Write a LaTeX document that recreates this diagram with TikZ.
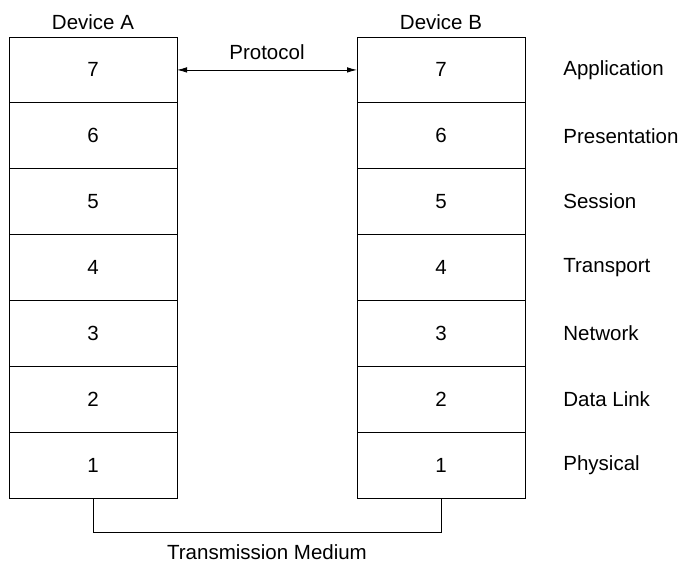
\documentclass[tikz,border=0pt]{standalone}
\usepackage{fontspec}
\setmainfont{Liberation Sans}
\usetikzlibrary{arrows.meta,positioning}

\tikzset{
  layer/.style={draw, line width=0.8pt, minimum width=168pt, minimum height=65.86pt, inner sep=0pt, outer sep=0pt},
  layername/.style={anchor=west, inner sep=0pt},
}

\begin{document}
\begin{tikzpicture}[x=1pt, y=-1pt, font=\fontsize{20.5}{24}\selectfont, line width=0.8pt]
    \useasboundingbox (0,0) rectangle (680,564);
    % the two stacks
    \node[layer] (a7) at (93,69.93) {7};
    \node[layer] (b7) at (441,69.93) {7};
    \foreach \i [evaluate=\i as \j using int(\i+1)] in {6,...,1} {
      \node[layer, below=0pt of a\j] (a\i) {\i};
      \node[layer, below=0pt of b\j] (b\i) {\i};
    }
    \node[above=4pt of a7] (devA) {Device A};
    \node[above=4pt of b7] (devB) {Device B};
    % layer names
    \foreach \n/\t in {7/Application,6/Presentation,5/Session,4/Transport,3/Network,2/Data Link,1/Physical}
      \node[layername, right=38pt of b\n.east] (name\n) {\t};
    % protocol and medium
    \draw[{Latex[length=10pt,width=5.5pt]}-{Latex[length=10pt,width=5.5pt]}] (a7.east) -- (b7.west)
      node[midway, above=6.5pt] (proto) {Protocol};
    \draw (a1.south) -- ++(0,34) -| (b1.south)
      node[pos=0.25, below=9pt] (medium) {Transmission Medium};
  \end{tikzpicture}
\end{document}
